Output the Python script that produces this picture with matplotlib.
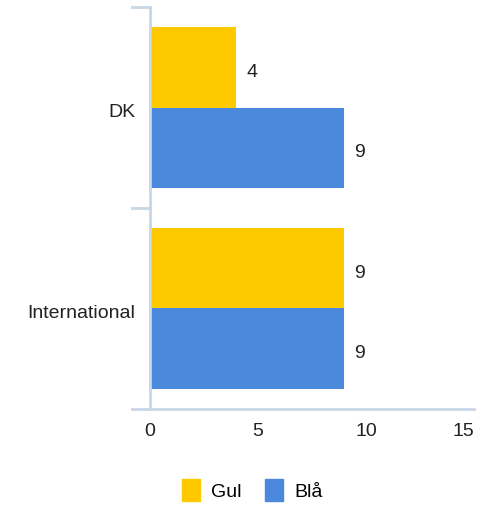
import matplotlib.pyplot as plt
from matplotlib.patches import Patch
from matplotlib.transforms import offset_copy

categories = ['DK', 'International']
series_names = ['Gul', 'Blå']
gul = [4, 9]
bla = [9, 9]
x_ticks = [0, 5, 10, 15]

colors = ['#FFC900', '#4A89DC']
axis_color = '#C8D6E6'
plt.rcParams['font.family'] = ['Liberation Sans', 'DejaVu Sans']
fs = 14

fig = plt.figure(figsize=(5, 5.08), dpi=100)
ax = fig.add_axes([0.264, 0.195, 0.684, 0.791])

ext = -18 / 21.6  # axis line extends left of zero
ax.set_xlim(ext, 15)
ax.set_ylim(2, 0)

# put text baseline ~9.5px below the anchor point
lbl_tr = offset_copy(ax.transData, fig=fig, x=0, y=-9.5, units='dots')

bar_h = 0.4
for i, cat in enumerate(categories):
    for j, vals in enumerate([gul, bla]):
        y = i + 0.1 + j * bar_h
        ax.barh(y, vals[i], height=bar_h, align='edge', color=colors[j], zorder=2)
        ax.text(vals[i] + 0.45, y + bar_h / 2, str(vals[i]), fontsize=fs,
                va='baseline', ha='left', color='#222222', transform=lbl_tr)
    ax.text(ext + 0.15, i + 0.5, cat, fontsize=fs, va='baseline', ha='right',
            color='#222222', transform=lbl_tr)

# axis lines
ax.plot([0, 0], [0, 2], color=axis_color, lw=2, zorder=3, clip_on=False)
ax.plot([ext, 15], [2, 2], color=axis_color, lw=2, zorder=3, clip_on=False)
for yy in [0, 1]:
    ax.plot([ext, 0], [yy, yy], color=axis_color, lw=2, zorder=3, clip_on=False)

for s in ax.spines.values():
    s.set_visible(False)
ax.set_yticks([])
ax.set_xticks(x_ticks)
ax.set_xticklabels([str(t) for t in x_ticks], fontsize=fs, color='#222222')
ax.tick_params(axis='x', length=0, pad=10)
ax.get_xticklabels()[-1].set_ha('right')

handles = [Patch(color=c, label=n) for c, n in zip(colors, series_names)]
fig.legend(handles=handles, loc='center', bbox_to_anchor=(0.505, 0.035), ncol=2,
           frameon=False, fontsize=fs, handlelength=0.9, handleheight=1.4,
           handletextpad=0.6, columnspacing=1.2)

fig.savefig('out.png', dpi=100)
